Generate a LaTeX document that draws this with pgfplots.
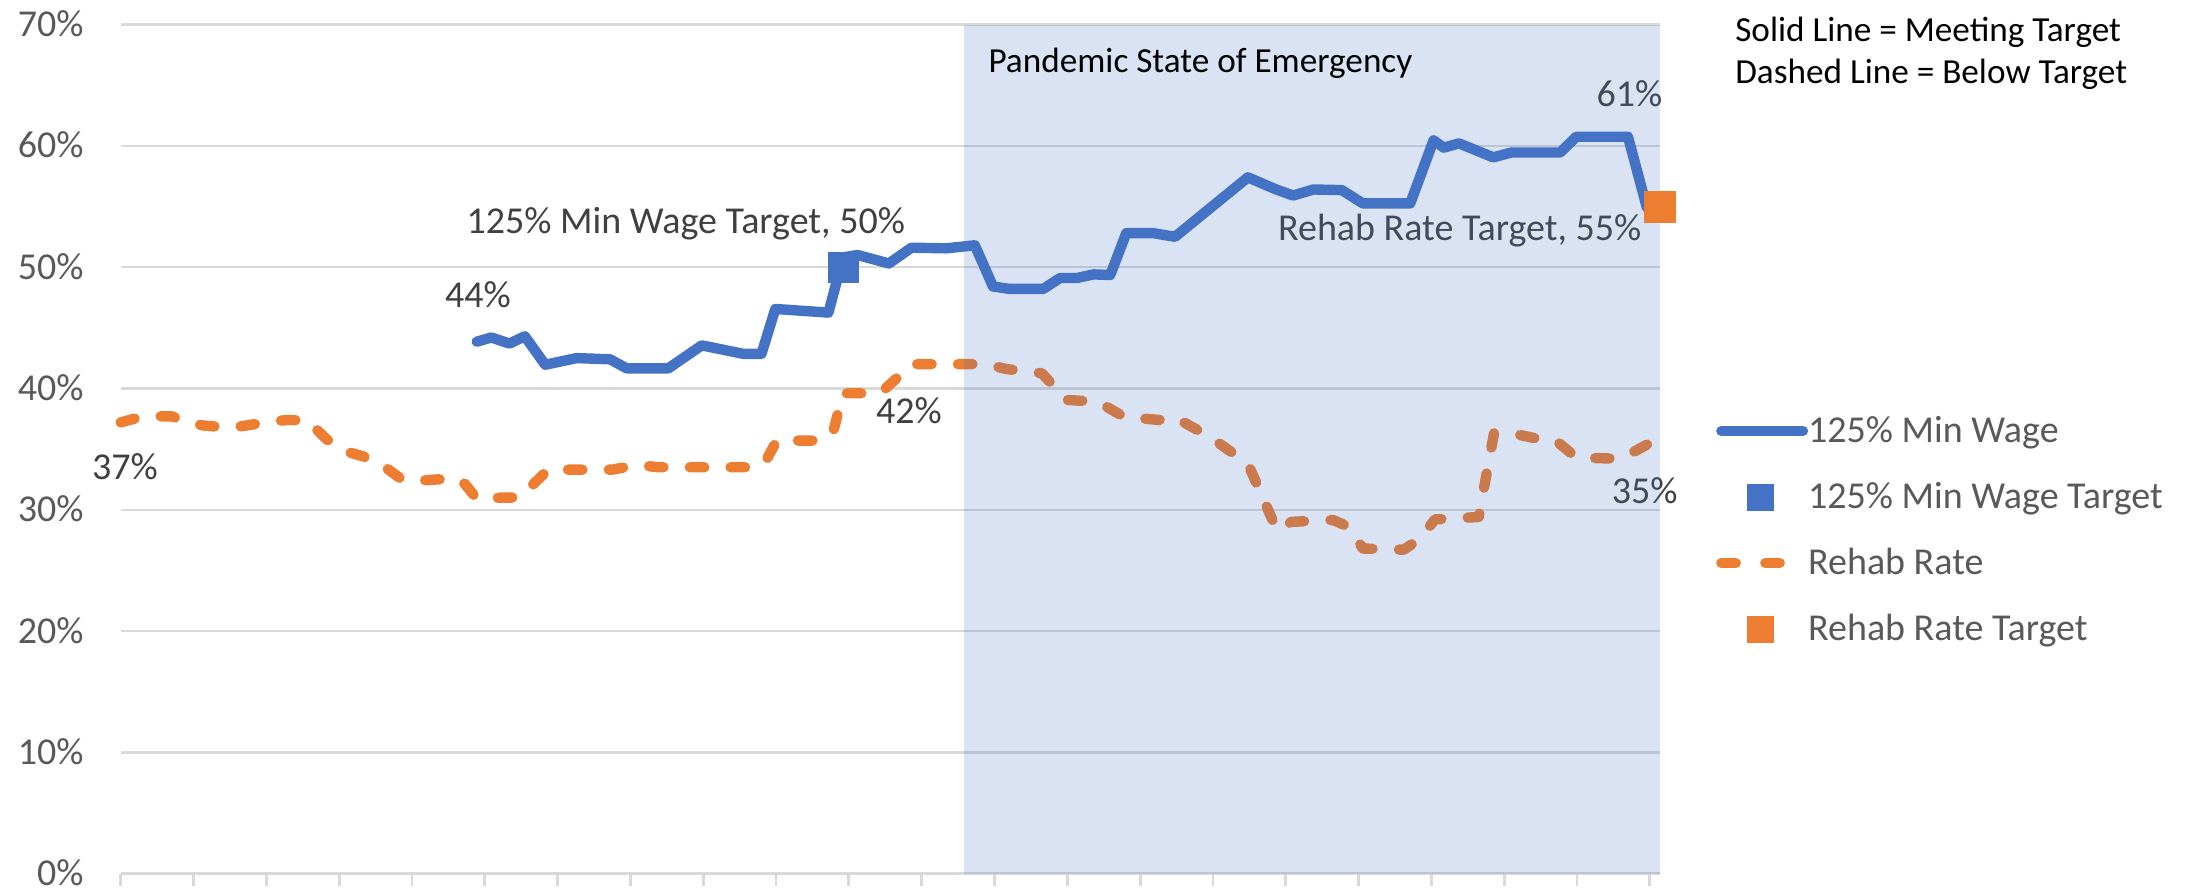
\documentclass[border=0pt]{standalone}
\usepackage{pgfplots}
\pgfplotsset{compat=1.18}
\usepackage{fontspec}
\setmainfont{Carlito}
\definecolor{minblue}{HTML}{4472C4}
\definecolor{rehab}{HTML}{ED7D31}
\definecolor{gridgray}{HTML}{D9D9D9}
\definecolor{axgray}{HTML}{595959}
\definecolor{lblgray}{HTML}{404040}
\newcommand{\gfont}{\fontsize{9.5}{11}\selectfont}
\newcommand{\bfontx}{\fontsize{8.8}{10.5}\selectfont}
\begin{document}
\begin{tikzpicture}
\useasboundingbox (-30.175pt,-3.85pt) rectangle (518.825pt,218.4pt);
\begin{axis}[
  at={(0pt,0pt)}, anchor=south west,
  scale only axis, width=384.825pt, height=212.275pt,
  xmin=0, xmax=21.14, ymin=0, ymax=70,
  clip=false,
  axis x line*=bottom, axis y line*=left,
  x axis line style={draw=gridgray, line width=0.7pt},
  y axis line style={draw=none},
  xtick={0,1,...,21}, xticklabels={},
  xtick style={draw=gridgray, line width=0.7pt},
  xtick align=outside, ytick align=inside, major tick length=3pt,
  ytick={0,10,...,70},
  yticklabels={0\%,10\%,20\%,30\%,40\%,50\%,60\%,70\%},
  ytick style={draw=none},
  yticklabel style={font=\gfont, text=axgray, anchor=base east, inner sep=0pt, xshift=-9.1pt, yshift=-3pt},
  ymajorgrids, grid style={draw=gridgray, line width=0.6pt},
  legend style={at={(1.0331,0.5432)}, anchor=north west, draw=none, fill=none,
    inner sep=0pt, outer sep=0pt, font=\gfont, text=axgray,
    row sep=7.2pt, column sep=-1.3pt,
    nodes={inner sep=0pt, text height=7.5pt, text depth=1.8pt}},
  legend cell align=left,
]
% 125% Min Wage
\addplot[minblue, line width=2.6pt, line join=round, line cap=round,
  legend image code/.code={\path (0pt,0pt) (23pt,0pt);
    \draw[minblue, line width=2.6pt, line cap=round] (1.3pt,0pt) -- (21.7pt,0pt);}]
coordinates {
(4.89,43.85) (5.09,44.2) (5.34,43.7) (5.55,44.3) (5.83,41.95) (6.26,42.5) (6.72,42.4)
(6.95,41.65) (7.52,41.65) (7.98,43.55) (8.55,42.85) (8.80,42.85) (8.99,46.55) (9.72,46.25)
(9.92,50.8) (10.12,51.0) (10.55,50.3) (10.86,51.6) (11.34,51.55) (11.73,51.8) (11.98,48.4)
(12.21,48.2) (12.67,48.2) (12.90,49.1) (13.13,49.1) (13.36,49.4) (13.59,49.35) (13.81,52.8)
(14.18,52.8) (14.48,52.5) (15.48,57.4) (15.87,56.4) (16.10,55.9) (16.38,56.4) (16.77,56.35)
(17.06,55.25) (17.71,55.25) (18.03,60.45) (18.17,59.85) (18.38,60.2) (18.85,59.05) (19.10,59.45)
(19.77,59.45) (19.99,60.75) (20.70,60.75) (20.96,54.9)
};
\addlegendentry{125\% Min Wage}
% 125% Min Wage Target
\addplot[only marks, mark=square*, mark size=3.75pt, minblue, mark options={line width=0.1pt},
  legend image code/.code={\path (0pt,0pt) (23pt,0pt);
    \draw[only marks, mark=square*, mark size=3.25pt, minblue, mark options={line width=0.1pt}] plot coordinates {(11pt,0pt)};}]
coordinates {(9.92,50)};
\addlegendentry{125\% Min Wage Target}
% Rehab Rate
\addplot[rehab, line width=2.6pt, line join=round, line cap=round, dash pattern=on 3.6pt off 6.6pt,
  legend image code/.code={\path (0pt,0pt) (23pt,0pt);
    \draw[rehab, line width=2.6pt, line cap=round] (1.3pt,0pt) -- (6.45pt,0pt);
    \draw[rehab, line width=2.6pt, line cap=round] (12.3pt,0pt) -- (17.2pt,0pt);}]
coordinates {
(0,37.2) (0.31,37.7) (0.70,37.7) (0.91,37.2) (1.13,36.95) (1.50,36.75) (1.73,36.95) (2.10,37.3)
(2.32,37.4) (2.58,37.35) (2.64,36.9) (2.83,35.8) (3.06,34.85) (3.33,34.4) (3.61,33.6) (3.86,32.5)
(4.11,32.4) (4.61,32.6) (4.73,32.1) (4.89,30.9) (5.25,31.0) (5.48,31.0) (5.87,33.3) (6.75,33.3)
(7.10,33.7) (7.38,33.5) (8.64,33.5) (8.84,33.8) (9.01,35.7) (9.57,35.7) (9.78,36.3) (9.92,39.6)
(10.43,39.6) (10.87,42.0) (11.88,42.0) (12.16,41.6) (12.65,41.25) (12.99,39.05) (13.42,38.9)
(13.78,37.65) (14.26,37.4) (14.48,37.6) (14.96,36.0) (15.48,33.8) (15.88,28.3) (16.08,29.0)
(16.65,29.15) (16.86,28.6) (17.06,26.8) (17.62,26.7) (17.84,27.6) (18.05,29.2) (18.65,29.4)
(18.86,36.3) (19.18,36.2) (19.50,35.8) (19.71,35.7) (19.99,34.3) (20.58,34.2) (20.82,34.9)
(21.00,35.5) (21.14,35.25)
};
\addlegendentry{Rehab Rate}
% Rehab Rate Target
\addplot[only marks, mark=square*, mark size=3.9pt, rehab, mark options={line width=0.1pt},
  legend image code/.code={\path (0pt,0pt) (23pt,0pt);
    \draw[only marks, mark=square*, mark size=3.25pt, rehab, mark options={line width=0.1pt}] plot coordinates {(11pt,0pt)};}]
coordinates {(21.14,55)};
\addlegendentry{Rehab Rate Target}
% data labels
\node[font=\gfont, text=lblgray, anchor=base] at (axis cs:4.907,46.63) {44\%};
\node[font=\gfont, text=lblgray, anchor=base] at (axis cs:10.826,37.12) {42\%};
\node[font=\gfont, text=lblgray, anchor=base] at (axis cs:0.059,32.45) {37\%};
\node[font=\gfont, text=lblgray, anchor=base] at (axis cs:20.72,63.28) {61\%};
\node[font=\gfont, text=lblgray, anchor=base] at (axis cs:20.93,30.53) {35\%};
\node[font=\gfont, text=lblgray, anchor=base] at (axis cs:7.76,52.81) {125\% Min Wage Target, 50\%};
\node[font=\gfont, text=lblgray, anchor=base] at (axis cs:18.389,52.23) {Rehab Rate Target, 55\%};
% pandemic shading
\addplot[draw=none, fill=minblue, fill opacity=0.2, forget plot] coordinates {(11.585,70) (21.14,70)} \closedcycle;
\node[font=\bfontx, text=black, anchor=base] at (axis cs:14.828,66.08) {Pandemic State of Emergency};
\node[font=\bfontx, text=black, anchor=base west] at (axis cs:21.98,68.58) {Solid Line = Meeting Target};
\node[font=\bfontx, text=black, anchor=base west] at (axis cs:21.98,65.15) {Dashed Line = Below Target};
\end{axis}
\end{tikzpicture}
\end{document}
